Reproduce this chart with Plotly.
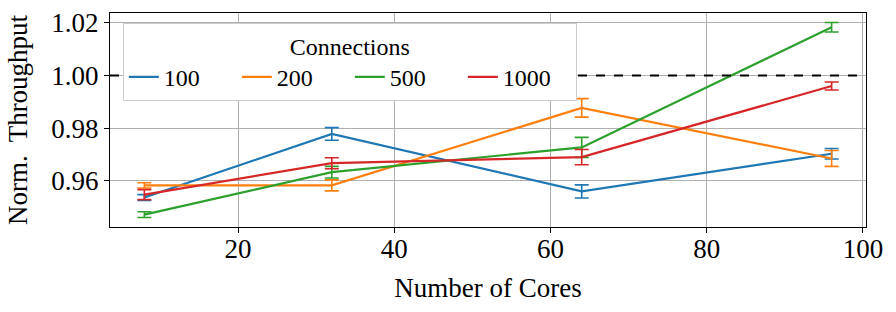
import plotly.graph_objects as go

cores = [8, 32, 64, 96]
series_names = ["100", "200", "500", "1000"]
values = {
    "100": [0.9537, 0.9778, 0.9560, 0.9703],
    "200": [0.9583, 0.9583, 0.9877, 0.9685],
    "500": [0.9472, 0.9633, 0.9727, 1.0183],
    "1000": [0.9548, 0.9667, 0.9690, 0.9960],
}
errors = {
    "100": [0.0011, 0.0024, 0.0025, 0.0020],
    "200": [0.0010, 0.0021, 0.0035, 0.0030],
    "500": [0.0011, 0.0022, 0.0038, 0.0018],
    "1000": [0.0019, 0.0021, 0.0029, 0.0015],
}
colors = {"100": "#1f77b4", "200": "#ff7f0e", "500": "#2ca02c", "1000": "#d62728"}
y_ticks = [0.96, 0.98, 1.00, 1.02]
x_ticks = [20, 40, 60, 80, 100]
baseline = 1.0

FONT = "Liberation Serif"

fig = go.Figure()
for name in series_names:
    fig.add_trace(go.Scatter(
        x=cores, y=values[name], name=name, mode="lines",
        line=dict(color=colors[name], width=2.2),
        error_y=dict(type="data", array=errors[name], visible=True,
                     color=colors[name], thickness=1.6, width=7),
    ))

fig.add_shape(type="line", xref="paper", x0=0, x1=1, yref="y", y0=baseline, y1=baseline,
              line=dict(color="black", width=2, dash="dash"), layer="above")

axis_common = dict(
    showline=True, linecolor="black", linewidth=1.2, mirror=True,
    ticks="outside", ticklen=5, tickwidth=1, tickcolor="black",
    showgrid=True, gridcolor="#b0b0b0", gridwidth=1, zeroline=False,
    tickfont=dict(family=FONT, size=27, color="black"),
    automargin=False,
)

fig.update_layout(
    width=896, height=312,
    margin=dict(l=110, r=30, t=13, b=85),
    plot_bgcolor="white", paper_bgcolor="white",
    font=dict(family=FONT, size=25, color="black"),
    xaxis=dict(range=[3.6, 100.4], tickvals=x_ticks, ticklabelstandoff=-8,
               title=dict(text="Number of Cores", font=dict(family=FONT, size=27)),
               **axis_common),
    yaxis=dict(range=[0.9425, 1.0237], tickvals=y_ticks, tickformat=".2f",
               title=dict(text="Norm.  Throughput", font=dict(family=FONT, size=27)),
               **axis_common),
    legend=dict(
        orientation="h", x=0.017, y=0.955, xanchor="left", yanchor="top",
        bgcolor="white", bordercolor="#cccccc", borderwidth=1,
        title=dict(text="Connections", side="top center", font=dict(family=FONT, size=24)),
        font=dict(family=FONT, size=24),
        entrywidth=68, entrywidthmode="pixels",
    ),
    showlegend=True,
)

fig.write_html("out.html", config={"displayModeBar": False},
               post_script="document.body.style.margin='0';document.body.style.overflow='hidden';")
